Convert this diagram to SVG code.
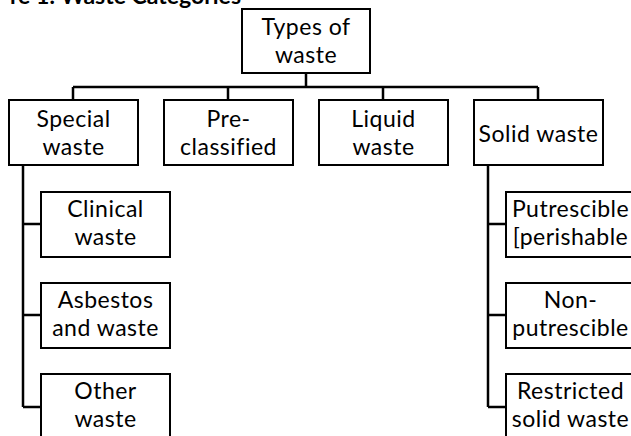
<svg xmlns="http://www.w3.org/2000/svg" width="631" height="436" viewBox="0 0 631 436">
<style>
.box{fill:#fff;stroke:#000;stroke-width:2}
.t{font-family:Lato,"Open Sans","Liberation Sans",sans-serif;font-size:23px;letter-spacing:0.5px;fill:#000;text-anchor:middle}
.title{font-family:Lato,"Open Sans","Liberation Sans",sans-serif;font-size:23px;font-weight:bold;fill:#000;text-anchor:end}
.c{fill:none;stroke:#000;stroke-width:2.5}
</style>
<rect width="631" height="436" fill="#fff"/>
<text class="title" x="241" y="4">re 1: Waste Categories</text>
<g id="connectors">
<path class="c" d="M306 73V87M73 87H538M73 87V100M228 87V100M383 87V100M538 87V100"/>
<path class="c" d="M23 165V407M23 224H41M23 315H41M23 407H41"/>
<path class="c" d="M488 165V407M488 224H506M488 315H506M488 407H506"/>
</g>
<g id="types"><rect class="box" x="242" y="9" width="128" height="64"/><text class="t" x="306" y="35">Types of<tspan x="306" dy="28">waste</tspan></text></g>
<g id="special"><rect class="box" x="9" y="100" width="129" height="65"/><text class="t" x="73.5" y="127">Special<tspan x="73.5" dy="28">waste</tspan></text></g>
<g id="preclassified"><rect class="box" x="164" y="100" width="129" height="65"/><text class="t" x="228.5" y="127">Pre-<tspan x="228.5" dy="28">classified</tspan></text></g>
<g id="liquid"><rect class="box" x="319" y="100" width="129" height="65"/><text class="t" x="383.5" y="127">Liquid<tspan x="383.5" dy="28">waste</tspan></text></g>
<g id="solid"><rect class="box" x="474" y="100" width="129" height="65"/><text class="t" x="538.5" y="142">Solid waste</text></g>
<g id="clinical"><rect class="box" x="41" y="192" width="129" height="65"/><text class="t" x="105.5" y="217">Clinical<tspan x="105.5" dy="28">waste</tspan></text></g>
<g id="asbestos"><rect class="box" x="41" y="283" width="129" height="65"/><text class="t" x="105.5" y="308">Asbestos<tspan x="105.5" dy="28">and waste</tspan></text></g>
<g id="other"><rect class="box" x="41" y="374" width="129" height="65"/><text class="t" x="105.5" y="399">Other<tspan x="105.5" dy="28">waste</tspan></text></g>
<g id="putrescible"><rect class="box" x="506" y="192" width="129" height="65"/><text class="t" x="570.5" y="217">Putrescible<tspan x="570.5" dy="28">[perishable</tspan></text></g>
<g id="nonputrescible"><rect class="box" x="506" y="283" width="129" height="65"/><text class="t" x="570.5" y="308">Non-<tspan x="570.5" dy="28">putrescible</tspan></text></g>
<g id="restricted"><rect class="box" x="506" y="374" width="129" height="65"/><text class="t" x="570.5" y="399">Restricted<tspan x="570.5" dy="28">solid waste</tspan></text></g>
</svg>
